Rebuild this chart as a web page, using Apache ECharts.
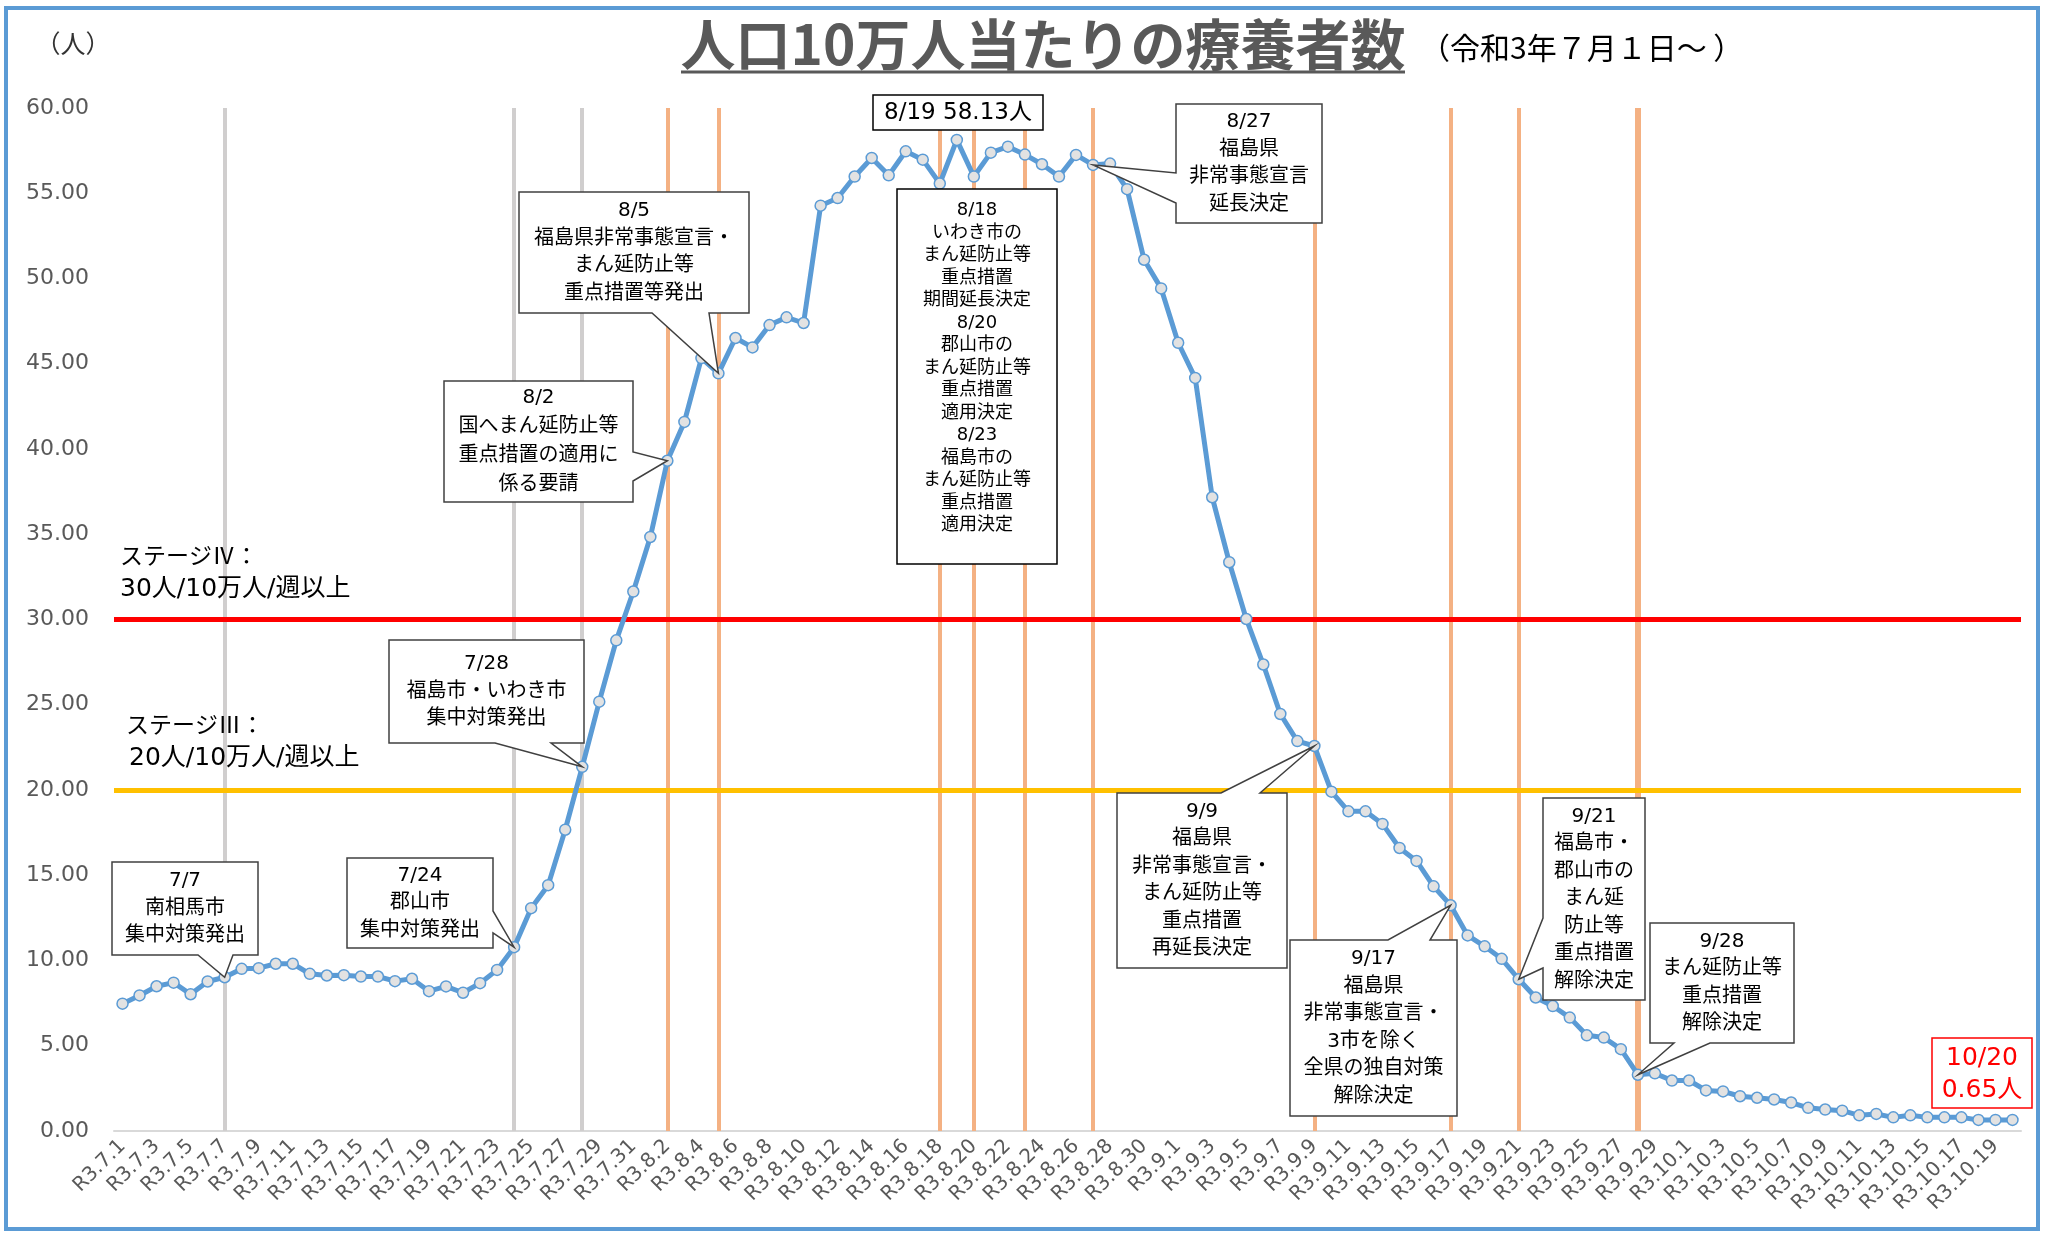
<!DOCTYPE html>
<html lang="ja">
<head>
<meta charset="UTF-8">
<script src="https://cdn.jsdelivr.net/npm/echarts@6/dist/echarts.min.js"></script>
<style>
    html, body { margin: 0; width: 100%; height: 100%; background: #fff; }
    #main { width: 2049px; height: 1233px; }
</style>
</head>
<body>
<div id="main"></div>
<script>
// 日付ラベル（月ごと）
const julLabels = ['R3.7.1','R3.7.2','R3.7.3','R3.7.4','R3.7.5','R3.7.6','R3.7.7','R3.7.8','R3.7.9','R3.7.10',
    'R3.7.11','R3.7.12','R3.7.13','R3.7.14','R3.7.15','R3.7.16','R3.7.17','R3.7.18','R3.7.19','R3.7.20',
    'R3.7.21','R3.7.22','R3.7.23','R3.7.24','R3.7.25','R3.7.26','R3.7.27','R3.7.28','R3.7.29','R3.7.30','R3.7.31'];
const augLabels = ['R3.8.1','R3.8.2','R3.8.3','R3.8.4','R3.8.5','R3.8.6','R3.8.7','R3.8.8','R3.8.9','R3.8.10',
    'R3.8.11','R3.8.12','R3.8.13','R3.8.14','R3.8.15','R3.8.16','R3.8.17','R3.8.18','R3.8.19','R3.8.20',
    'R3.8.21','R3.8.22','R3.8.23','R3.8.24','R3.8.25','R3.8.26','R3.8.27','R3.8.28','R3.8.29','R3.8.30','R3.8.31'];
const sepLabels = ['R3.9.1','R3.9.2','R3.9.3','R3.9.4','R3.9.5','R3.9.6','R3.9.7','R3.9.8','R3.9.9','R3.9.10',
    'R3.9.11','R3.9.12','R3.9.13','R3.9.14','R3.9.15','R3.9.16','R3.9.17','R3.9.18','R3.9.19','R3.9.20',
    'R3.9.21','R3.9.22','R3.9.23','R3.9.24','R3.9.25','R3.9.26','R3.9.27','R3.9.28','R3.9.29','R3.9.30'];
const octLabels = ['R3.10.1','R3.10.2','R3.10.3','R3.10.4','R3.10.5','R3.10.6','R3.10.7','R3.10.8','R3.10.9','R3.10.10',
    'R3.10.11','R3.10.12','R3.10.13','R3.10.14','R3.10.15','R3.10.16','R3.10.17','R3.10.18','R3.10.19','R3.10.20'];

// 人口10万人当たりの療養者数（月ごと）
const julValues = [7.47, 7.95, 8.49, 8.70, 8.02, 8.77, 9.02, 9.51, 9.55, 9.81,
    9.81, 9.22, 9.12, 9.14, 9.06, 9.06, 8.79, 8.93, 8.20, 8.48,
    8.11, 8.67, 9.45, 10.78, 13.07, 14.42, 17.67, 21.36, 25.18, 28.78, 31.64];
const augValues = [34.84, 39.31, 41.59, 45.33, 44.44, 46.51, 45.96, 47.27, 47.72, 47.39,
    54.27, 54.72, 55.98, 57.07, 56.05, 57.46, 56.97, 55.57, 58.13, 55.98,
    57.38, 57.73, 57.27, 56.70, 55.98, 57.25, 56.66, 56.74, 55.24, 51.10, 49.42];
const sepValues = [46.23, 44.17, 37.17, 33.36, 30.03, 27.36, 24.46, 22.87, 22.58, 19.90,
    18.75, 18.75, 18.01, 16.60, 15.84, 14.35, 13.24, 11.47, 10.83, 10.10,
    8.90, 7.83, 7.33, 6.65, 5.61, 5.48, 4.80, 3.30, 3.38, 2.96];
const octValues = [2.96, 2.38, 2.32, 2.04, 1.95, 1.85, 1.67, 1.36, 1.26, 1.19,
    0.92, 1.00, 0.80, 0.92, 0.80, 0.80, 0.80, 0.65, 0.65, 0.65];

// 基準線
const stageLevels = [30, 20];
const grayEventDates = ['R3.7.7', 'R3.7.24', 'R3.7.28'];
const orangeEventDates = ['R3.8.2', 'R3.8.5', 'R3.8.18', 'R3.8.20', 'R3.8.23', 'R3.8.27',
    'R3.9.9', 'R3.9.17', 'R3.9.21', 'R3.9.28'];

const labels = julLabels.concat(augLabels, sepLabels, octLabels);
const values = julValues.concat(augValues, sepValues, octValues);

const FONT = '"Noto Sans CJK JP", "Noto Sans", sans-serif';
const MIX = '"DejaVu Sans", "Noto Sans CJK JP", sans-serif';

let myEcharts = echarts.init(document.getElementById('main'));

let refLines = [];
grayEventDates.forEach(function (d) {
    refLines.push({xAxis: d, lineStyle: {color: '#D0CECE', width: 4, type: 'solid'}});
});
orangeEventDates.forEach(function (d) {
    refLines.push({xAxis: d, lineStyle: {color: '#F4B183', width: d === 'R3.9.28' ? 6 : 4, type: 'solid'}});
});
refLines.push({yAxis: stageLevels[0], lineStyle: {color: '#FF0000', width: 5, type: 'solid'}});
refLines.push({yAxis: stageLevels[1], lineStyle: {color: '#FFC000', width: 5, type: 'solid'}});

let option = {
    animation: false,
    backgroundColor: '#fff',
    textStyle: {fontFamily: FONT},
    grid: {left: 114, top: 108, width: 1907, height: 1023},
    xAxis: {
        type: 'category',
        data: labels,
        boundaryGap: true,
        axisLine: {lineStyle: {color: '#D9D9D9', width: 2}},
        axisTick: {show: false},
        axisLabel: {interval: 1, rotate: 45, color: '#595959', fontSize: 20, margin: 12, fontFamily: MIX}
    },
    yAxis: {
        type: 'value',
        min: 0,
        max: 60,
        interval: 5,
        splitLine: {show: false},
        axisLine: {show: false},
        axisTick: {show: false},
        axisLabel: {
            color: '#595959', fontSize: 22, margin: 25, fontFamily: MIX,
            formatter: function (v) { return v.toFixed(2); }
        }
    },
    series: [
        {
            type: 'line',
            data: [],
            z: 1,
            silent: true,
            markLine: {
                silent: true,
                symbol: ['none', 'none'],
                label: {show: false},
                data: refLines
            }
        },
        {
            type: 'line',
            data: values,
            z: 5,
            showAllSymbol: true,
            symbol: 'circle',
            symbolSize: 11,
            lineStyle: {color: '#5B9BD5', width: 5},
            itemStyle: {color: '#E2E2E2', borderColor: '#5B9BD5', borderWidth: 1.5}
        }
    ]
};
myEcharts.setOption(option);

// 吹き出し
const callouts = [
    {date: 'R3.7.7', text: '7/7\n南相馬市\n集中対策発出', box: [112, 862, 146, 93], side: 'bottom', from: 198, to: 233},
    {date: 'R3.7.24', text: '7/24\n郡山市\n集中対策発出', box: [347, 858, 146, 90], side: 'right', from: 911, to: 933},
    {date: 'R3.7.28', text: '7/28\n福島市・いわき市\n集中対策発出', box: [389, 640, 195, 103], side: 'bottom', from: 495, to: 551},
    {date: 'R3.8.2', text: '8/2\n国へまん延防止等\n重点措置の適用に\n係る要請', box: [444, 381, 189, 121], side: 'right', from: 452, to: 481, lh: 29},
    {date: 'R3.8.5', text: '8/5\n福島県非常事態宣言・\nまん延防止等\n重点措置等発出', box: [519, 192, 230, 121], side: 'bottom', from: 652, to: 709},
    {date: 'R3.8.27', text: '8/27\n福島県\n非常事態宣言\n延長決定', box: [1176, 104, 146, 119], side: 'left', from: 173, to: 203},
    {date: 'R3.9.9', text: '9/9\n福島県\n非常事態宣言・\nまん延防止等\n重点措置\n再延長決定', box: [1117, 793, 170, 175], side: 'top', from: 1221, to: 1260},
    {date: 'R3.9.17', text: '9/17\n福島県\n非常事態宣言・\n3市を除く\n全県の独自対策\n解除決定', box: [1290, 940, 167, 176], side: 'top', from: 1388, to: 1430},
    {date: 'R3.9.21', text: '9/21\n福島市・\n郡山市の\nまん延\n防止等\n重点措置\n解除決定', box: [1543, 798, 102, 202], side: 'left', from: 918, to: 968},
    {date: 'R3.9.28', text: '9/28\nまん延防止等\n重点措置\n解除決定', box: [1650, 923, 144, 120], side: 'bottom', from: 1674, to: 1710}
];

function calloutPoints(b, c, tip) {
    const x0 = b[0], y0 = b[1], x1 = b[0] + b[2], y1 = b[1] + b[3];
    let p = [[x0, y0]];
    if (c.side === 'top') p.push([c.from, y0], tip, [c.to, y0]);
    p.push([x1, y0]);
    if (c.side === 'right') p.push([x1, c.from], tip, [x1, c.to]);
    p.push([x1, y1]);
    if (c.side === 'bottom') p.push([c.to, y1], tip, [c.from, y1]);
    p.push([x0, y1]);
    if (c.side === 'left') p.push([x0, c.to], tip, [x0, c.from]);
    return p;
}

function textEl(x, y, text, size, color, lh, family, weight, align) {
    return {
        type: 'text', x: x, y: y, z: 110,
        style: {
            text: text, fill: color, fontSize: size, fontFamily: family || FONT, fontWeight: weight || 'normal',
            align: align || 'center', verticalAlign: 'middle',
            textAlign: align || 'center', textVerticalAlign: 'middle',
            lineHeight: lh
        }
    };
}

function boxEl(b, stroke) {
    return {
        type: 'rect', z: 100,
        shape: {x: b[0], y: b[1], width: b[2], height: b[3]},
        style: {fill: '#fff', stroke: stroke, lineWidth: 1.5}
    };
}

let graphics = [];

// 外枠
graphics.push({
    type: 'rect', z: 120, silent: true,
    shape: {x: 6, y: 8, width: 2032, height: 1221},
    style: {fill: 'none', stroke: '#5B9BD5', lineWidth: 4}
});

// タイトル
graphics.push(textEl(1043, 44, '人口10万人当たりの療養者数', 55, '#595959', 60, FONT, 'bold'));
graphics.push({
    type: 'line', z: 110,
    shape: {x1: 681, y1: 72, x2: 1405, y2: 72},
    style: {stroke: '#595959', lineWidth: 3}
});
graphics.push(textEl(1420, 48, '（令和3年７月１日～ ）', 30, '#000', 34, FONT, 'normal', 'left'));
graphics.push(textEl(73, 43, '（人）', 25, '#333', 30));

// ステージ
graphics.push(textEl(120, 555, 'ステージⅣ：', 23, '#000', 30, FONT, 'normal', 'left'));
graphics.push(textEl(120, 589, '30人/10万人/週以上', 25, '#000', 30, MIX, 'normal', 'left'));
graphics.push(textEl(126, 724, 'ステージⅢ：', 23, '#000', 30, FONT, 'normal', 'left'));
graphics.push(textEl(129, 758, '20人/10万人/週以上', 25, '#000', 30, MIX, 'normal', 'left'));

callouts.forEach(function (c) {
    const idx = labels.indexOf(c.date);
    const tip = myEcharts.convertToPixel({seriesIndex: 1}, [idx, values[idx]]);
    const b = c.box;
    graphics.push({
        type: 'polygon', z: 100,
        shape: {points: calloutPoints(b, c, tip)},
        style: {fill: '#fff', stroke: '#404040', lineWidth: 1.5}
    });
    graphics.push(textEl(b[0] + b[2] / 2, b[1] + b[3] / 2, c.text, 20, '#000', c.lh || 27.5, MIX));
});

// 最大値
const peakIdx = values.indexOf(Math.max.apply(null, values));
const peakText = labels[peakIdx].replace('R3.', '').replace('.', '/') + ' ' + values[peakIdx].toFixed(2) + '人';
graphics.push(boxEl([873, 95, 170, 35], '#000'));
graphics.push(textEl(958, 113, peakText, 23, '#000', 30, MIX));

// 8/18・8/20・8/23
graphics.push(boxEl([897, 189, 160, 375], '#000'));
graphics.push(textEl(977, 368,
    '8/18\nいわき市の\nまん延防止等\n重点措置\n期間延長決定\n8/20\n郡山市の\nまん延防止等\n重点措置\n適用決定\n8/23\n福島市の\nまん延防止等\n重点措置\n適用決定',
    18, '#000', 22.5, MIX));

// 最新値
const lastIdx = values.length - 1;
const lastText = labels[lastIdx].replace('R3.', '').replace('.', '/') + '\n' + values[lastIdx].toFixed(2) + '人';
graphics.push(boxEl([1932, 1038, 100, 70], '#FF0000'));
graphics.push(textEl(1982, 1074, lastText, 25, '#FF0000', 32, MIX));

myEcharts.setOption({graphic: graphics});
</script>
</body>
</html>
